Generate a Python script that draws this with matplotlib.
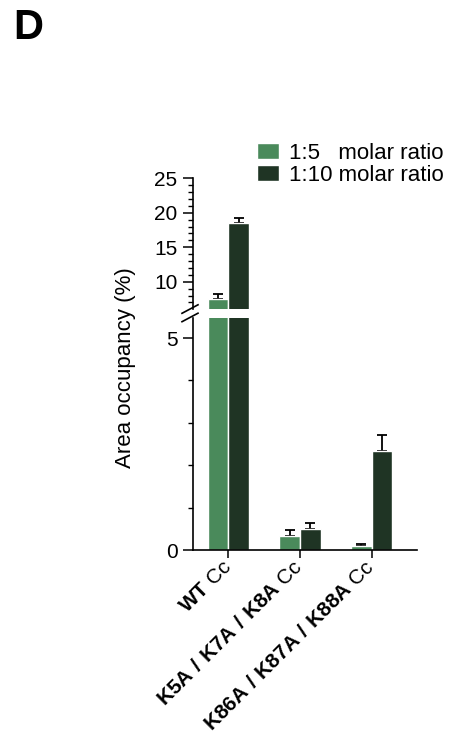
import numpy as np
import matplotlib
matplotlib.use("Agg")
import matplotlib.pyplot as plt
from matplotlib.patches import Patch
from matplotlib.lines import Line2D

plt.rcParams['font.family'] = ['Liberation Sans', 'DejaVu Sans']
plt.rcParams['mathtext.fontset'] = 'custom'
plt.rcParams['mathtext.rm'] = 'Liberation Sans'
plt.rcParams['mathtext.bf'] = 'Liberation Sans:bold'

# data
groups = [r"$\mathbf{WT}$ Cc",
          r"$\mathbf{K5A\ /\ K7A\ /\ K8A}$ Cc",
          r"$\mathbf{K86A\ /\ K87A\ /\ K88A}$ Cc"]
series = ["1:5   molar ratio", "1:10 molar ratio"]
ratio_5 = [7.45, 0.33, 0.09]
ratio_5_err = [0.72, 0.14, 0.05]
ratio_10 = [18.5, 0.50, 2.34]
ratio_10_err = [0.80, 0.13, 0.37]

colors = ["#4a8a5b", "#1f3424"]

W, H = 451, 738
fig = plt.figure(figsize=(W / 100, H / 100), dpi=100)

def fx(px):
    return px / W

def fy(py):
    return 1 - py / H

left, right = 192.7, 416.7
ax_top = fig.add_axes([fx(left), fy(309.3), fx(right - left), (309.3 - 178.3) / H])
ax_bot = fig.add_axes([fx(left), fy(550), fx(right - left), (550 - 317.7) / H])

x = np.arange(len(groups))
bw = 0.29
for ax in (ax_top, ax_bot):
    for vals, errs, off, c in [(ratio_5, ratio_5_err, -bw / 2, colors[0]),
                               (ratio_10, ratio_10_err, bw / 2, colors[1])]:
        ax.bar(x + off, vals, width=bw, color=c, edgecolor="white", linewidth=1.0, zorder=2)
        ax.errorbar(x + off, vals, yerr=[np.zeros(len(errs)), errs], fmt="none",
                    ecolor="black", elinewidth=1.3, capsize=3.5, capthick=1.3, zorder=1)
    ax.set_xlim(-0.5, 2.63)
    for s in ("top", "right"):
        ax.spines[s].set_visible(False)
    ax.spines["left"].set_linewidth(1.2)
    ax.spines["bottom"].set_linewidth(1.2)
    ax.tick_params(axis="y", which="major", length=7, width=1.1, labelsize=15, pad=4)
    ax.tick_params(axis="y", which="minor", length=3.5, width=1.0)

ax_top.set_ylim(6, 25)
ax_top.set_yticks([10, 15, 20, 25])
ax_top.set_yticks(np.arange(7, 25, 1), minor=True)
ax_top.spines["bottom"].set_visible(False)
ax_top.set_xticks([])

ax_bot.set_ylim(0, 5.48)
ax_bot.set_yticks([0, 5])
ax_bot.set_yticks([1, 2, 3, 4], minor=True)
ax_bot.set_xticks(x)
ax_bot.set_xticklabels(groups, rotation=45, ha="right", va="center",
                       rotation_mode="anchor", fontsize=15)
ax_bot.tick_params(axis="x", length=6, width=1.1, pad=4)

# axis break marks
for y0 in (309.3, 317.7):
    fig.add_artist(Line2D([fx(182), fx(198)], [fy(y0 + 4), fy(y0 - 4.5)],
                          color="black", linewidth=1.2))

fig.text(fx(125), fy(368), "Area occupancy (%)", rotation=90,
         ha="center", va="center", fontsize=16)

handles = [Patch(facecolor=c, edgecolor="white") for c in colors]
fig.legend(handles, series, loc="upper left", bbox_to_anchor=(fx(250), fy(136)),
           frameon=False, fontsize=16, handlelength=1.0, handleheight=0.75,
           handletextpad=0.45, labelspacing=0.05, borderaxespad=0, borderpad=0.3)

fig.text(fx(13), fy(28), "D", fontsize=30, fontweight="bold", va="center", ha="left")

fig.savefig("out.png", dpi=100)
